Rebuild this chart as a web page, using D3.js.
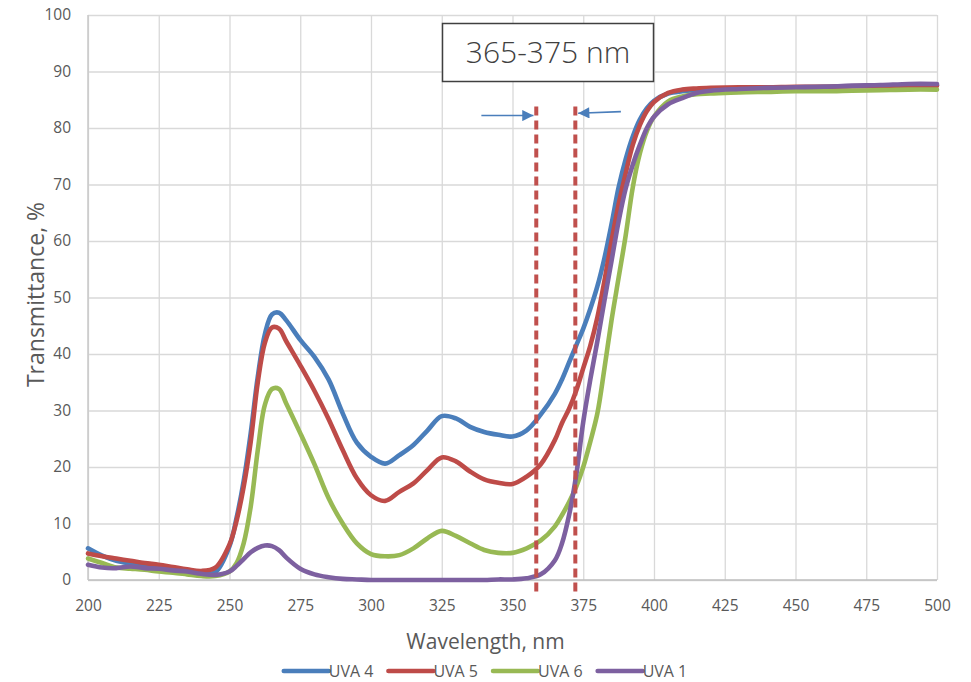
<!DOCTYPE html>
<meta charset="utf-8">

<style>
  body { margin: 0; background: #fff; }
  svg text { font-family: "Open Sans", "Liberation Sans", sans-serif; fill: #595959; }
  .grid line { stroke: #d9d9d9; stroke-width: 1.3px; }
  .grid .domain { display: none; }
  .series path { fill: none; stroke-width: 4.6px; stroke-linejoin: round; stroke-linecap: round; }
</style>

<svg width="971" height="682"></svg>

<script src="https://cdn.jsdelivr.net/npm/d3@7/dist/d3.min.js"></script>
<script>
// ====================================================================
// data
const wavelength = [200, 205, 210, 215, 220, 225, 230, 235, 240, 245,
  250, 252.5, 255, 257.5, 260, 262.5, 265, 267.5, 270,
  275, 280, 285, 290, 295, 300, 305, 310, 315, 320, 325, 330, 335, 340, 345, 350, 355, 360, 365,
  367.5, 370, 372.5, 375, 377.5, 380, 382.5, 385, 387.5, 390, 392.5, 395, 397.5, 400,
  405, 410, 415, 420,
  430, 440, 450, 460, 470, 480, 490, 500]

const uva4 = [5.6, 4.3, 3.4, 2.9, 2.5, 2.0, 1.7, 1.4, 1.1, 1.4,
  6, 11, 17.5, 26, 36, 43.5, 47, 47.3, 46,
  42.5, 39.5, 35.5, 29.5, 24.3, 21.8, 20.6, 22.1, 23.9, 26.5, 29, 28.6, 27.1, 26.2, 25.7, 25.4, 26.5, 29.3, 33,
  35.5, 38.5, 41.5, 44.5, 48, 52, 57, 63, 69.5, 74.5, 78.5, 81.5, 83.5, 84.8,
  86.1, 86.5, 86.7, 86.8,
  87, 87.1, 87.2, 87.3, 87.4, 87.5, 87.6, 87.6]

const uva5 = [4.7, 4.2, 3.8, 3.4, 3.0, 2.7, 2.3, 1.9, 1.6, 2.2,
  6.3, 10.5, 16.5, 24.5, 35, 42, 44.7, 44.5, 42.3,
  38, 33.5, 28.5, 23, 18, 15, 14, 15.6, 17.1, 19.5, 21.7, 21, 19.2, 17.8, 17.2, 17, 18.3, 20.5, 24.8,
  27.8, 30.3, 33.5, 37.5, 41.5, 46.5, 53, 60, 66.5, 72, 77, 80.5, 83, 84.6,
  86.2, 86.8, 87, 87.1,
  87.2, 87.2, 87.3, 87.3, 87.4, 87.4, 87.5, 87.5]

const uva6 = [3.8, 3.0, 2.2, 2.0, 1.8, 1.5, 1.3, 1.0, 0.7, 0.7,
  1.5, 3, 6.5, 13, 23, 31, 33.8, 33.8, 31.3,
  26, 20.5, 14.5, 10, 6.5, 4.6, 4.2, 4.4, 5.6, 7.4, 8.7, 7.8, 6.5, 5.3, 4.8, 4.8, 5.6, 7, 9.5,
  11.5, 13.8, 16.5, 20, 24.5, 29.5, 37.5, 46, 53.5, 61, 69.5, 75.5, 79.5, 82,
  84.7, 85.6, 86, 86.1,
  86.3, 86.4, 86.5, 86.5, 86.6, 86.7, 86.8, 86.8]

const uva1 = [2.7, 2.2, 2.1, 2.4, 2.1, 2.0, 1.7, 1.5, 1.1, 0.9,
  1.5, 2.5, 3.7, 4.9, 5.7, 6.1, 6.0, 5.3, 4,
  2.0, 1.0, 0.5, 0.2, 0.1, 0, 0, 0, 0, 0, 0, 0, 0, 0, 0.1, 0.1, 0.3, 1.0, 3.5,
  6.5, 11.5, 18.5, 28, 35.5, 42.3, 49.5, 56.5, 63.5, 69.3, 73.5, 77, 80, 82,
  84.2, 85.3, 86.2, 86.6,
  86.9, 87.1, 87.2, 87.3, 87.5, 87.6, 87.8, 87.8]

const seriesNames = ["UVA 4", "UVA 5", "UVA 6", "UVA 1"]
const seriesValues = [uva4, uva5, uva6, uva1]
const seriesColors = ["#4a7ebb", "#be4b48", "#98b954", "#7d60a0"]

const xTicks = [200, 225, 250, 275, 300, 325, 350, 375, 400, 425, 450, 475, 500]
const yTicks = [0, 10, 20, 30, 40, 50, 60, 70, 80, 90, 100]

// band marker lines (nm) and the box label
const markerLines = [358.4, 372.2]
const bandLabel = "365-375 nm"

// ====================================================================
const svg = d3.select("svg")
const margin = {top: 15, right: 34, bottom: 102, left: 88}
const width = +svg.attr("width") - margin.left - margin.right
const height = +svg.attr("height") - margin.top - margin.bottom

const x = d3.scaleLinear().domain([200, 500]).range([0, width])
const y = d3.scaleLinear().domain([0, 100]).range([height, 0])

const g = svg.append("g").attr("transform", `translate(${margin.left},${margin.top})`)

// gridlines + tick labels
g.append("g")
    .attr("class", "grid")
    .attr("transform", `translate(0,${height})`)
    .call(d3.axisBottom(x).tickValues(xTicks).tickSize(-height).tickPadding(20))
    .selectAll("text")
    .style("font-size", "15.5px")

g.append("g")
    .attr("class", "grid")
    .call(d3.axisLeft(y).tickValues(yTicks).tickSize(-width).tickPadding(17))
    .selectAll("text")
    .style("font-size", "15.5px")

// axis lines
g.append("line")
    .attr("x1", 0).attr("x2", width).attr("y1", height).attr("y2", height)
    .attr("stroke", "#bfbfbf").attr("stroke-width", 1.5)
g.append("line")
    .attr("x1", 0).attr("x2", 0).attr("y1", 0).attr("y2", height)
    .attr("stroke", "#c8c8c8").attr("stroke-width", 1.5)

// spectra
const line = d3.line()
    .x((d, i) => x(wavelength[i]))
    .y(d => y(d))
    .curve(d3.curveCatmullRom.alpha(0.5))

g.append("g")
    .attr("class", "series")
    .selectAll("path")
    .data(seriesValues)
    .enter()
    .append("path")
    .attr("stroke", (d, i) => seriesColors[i])
    .attr("d", line)

// dashed band markers
g.append("g")
    .selectAll("line")
    .data(markerLines)
    .enter()
    .append("line")
    .attr("x1", d => x(d)).attr("x2", d => x(d))
    .attr("y1", y(83.8)).attr("y2", y(-2.1))
    .attr("stroke", "#c0504d")
    .attr("stroke-width", 4)
    .attr("stroke-dasharray", "9,5")

// arrows pointing at the markers
svg.append("defs").append("marker")
    .attr("id", "head")
    .attr("viewBox", "0 0 10 10")
    .attr("refX", 10).attr("refY", 5)
    .attr("markerWidth", 8).attr("markerHeight", 7)
    .attr("markerUnits", "strokeWidth")
    .attr("orient", "auto")
  .append("path")
    .attr("d", "M0,0L10,5L0,10z")
    .attr("fill", "#4a7ebb")

const arrows = [
  {from: [339, 82.2], to: [357.4, 82.2]},
  {from: [388.3, 82.9], to: [373.2, 82.6]}
]
g.selectAll("line.arrow")
    .data(arrows)
    .enter()
    .append("line")
    .attr("class", "arrow")
    .attr("x1", d => x(d.from[0])).attr("y1", d => y(d.from[1]))
    .attr("x2", d => x(d.to[0])).attr("y2", d => y(d.to[1]))
    .attr("stroke", "#4a7ebb")
    .attr("stroke-width", 1.6)
    .attr("marker-end", "url(#head)")

// label box
const box = svg.append("g")
box.append("rect")
    .attr("x", 442.5).attr("y", 23.5)
    .attr("width", 211).attr("height", 58)
    .attr("fill", "#fff")
    .attr("stroke", "#404040")
    .attr("stroke-width", 1.5)
box.append("text")
    .attr("x", 548).attr("y", 63)
    .attr("text-anchor", "middle")
    .style("font-size", "30px")
    .style("font-weight", 300)
    .style("fill", "#404040")
    .text(bandLabel)

// axis titles
svg.append("text")
    .attr("x", 485.5).attr("y", 649)
    .attr("text-anchor", "middle")
    .style("font-size", "21px")
    .text("Wavelength, nm")

svg.append("text")
    .attr("transform", `translate(44,${margin.top + height / 2 - 3}) rotate(-90)`)
    .attr("text-anchor", "middle")
    .style("font-size", "23px")
    .text("Transmittance, %")

// legend
const legend = svg.append("g")
let cursor = 0
seriesNames.forEach((name, i) => {
  const item = legend.append("g").attr("transform", `translate(${cursor},0)`)
  item.append("line")
      .attr("x1", 0).attr("x2", 45)
      .attr("stroke", seriesColors[i])
      .attr("stroke-width", 4.5)
      .attr("stroke-linecap", "round")
  const t = item.append("text")
      .attr("x", 45).attr("dy", "0.36em")
      .style("font-size", "16px")
      .text(name)
  cursor += 45 + t.node().getComputedTextLength() + 15
})
cursor -= 15
legend.attr("transform", `translate(${485.5 - cursor / 2},671)`)
</script>
